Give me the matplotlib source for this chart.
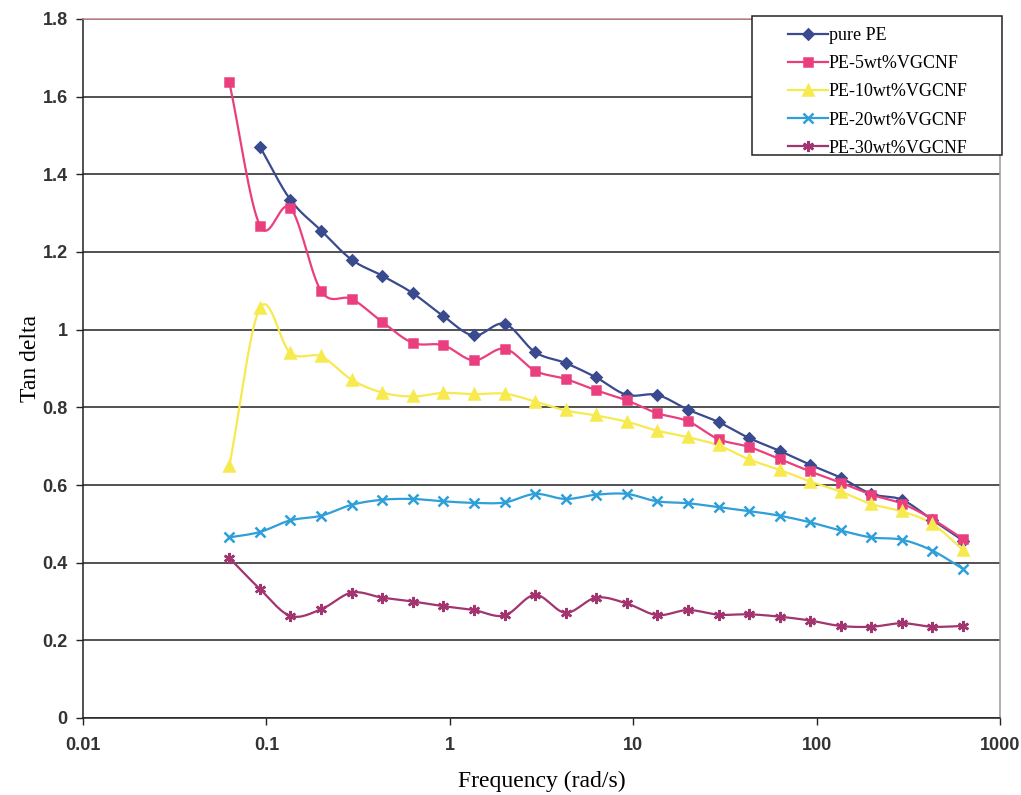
import numpy as np
import matplotlib
matplotlib.use("Agg")
import matplotlib.pyplot as plt
from matplotlib.patches import Rectangle
from matplotlib.ticker import FixedLocator, FixedFormatter

# frequency sweep (rad/s), 6 points per decade
freq = [0.0628, 0.0922, 0.135, 0.199, 0.292, 0.428, 0.628, 0.922, 1.35, 1.99,
        2.92, 4.28, 6.28, 9.22, 13.5, 19.9, 29.2, 42.8, 62.8, 92.2,
        135, 199, 292, 428, 628]

# tan delta for each sample
pure_pe = [None, 1.471, 1.335, 1.255, 1.180, 1.139, 1.094, 1.035, 0.985, 1.015,
           0.942, 0.914, 0.877, 0.832, 0.832, 0.794, 0.762, 0.721, 0.688, 0.652,
           0.619, 0.577, 0.562, 0.510, 0.457]
pe_5 = [1.637, 1.268, 1.314, 1.099, 1.079, 1.020, 0.966, 0.960, 0.921, 0.951,
        0.894, 0.873, 0.844, 0.818, 0.785, 0.764, 0.718, 0.698, 0.667, 0.635,
        0.606, 0.575, 0.552, 0.512, 0.461]
pe_10 = [0.649, 1.056, 0.940, 0.931, 0.871, 0.838, 0.828, 0.837, 0.834, 0.835,
         0.815, 0.792, 0.779, 0.763, 0.740, 0.723, 0.702, 0.666, 0.639, 0.609,
         0.583, 0.551, 0.532, 0.500, 0.433]
pe_20 = [0.465, 0.479, 0.509, 0.521, 0.549, 0.562, 0.564, 0.558, 0.554, 0.555,
         0.577, 0.564, 0.575, 0.577, 0.558, 0.553, 0.543, 0.533, 0.521, 0.504,
         0.483, 0.465, 0.459, 0.431, 0.384]
pe_30 = [0.412, 0.332, 0.263, 0.280, 0.323, 0.310, 0.300, 0.288, 0.278, 0.264,
         0.317, 0.271, 0.310, 0.295, 0.265, 0.278, 0.266, 0.267, 0.261, 0.251,
         0.237, 0.235, 0.244, 0.235, 0.237]

labels = ["pure PE", "PE-5wt%VGCNF", "PE-10wt%VGCNF", "PE-20wt%VGCNF", "PE-30wt%VGCNF"]
colors = ["#3a4a8e", "#ea3f7e", "#f7ea4e", "#2e9fd9", "#a2346f"]
markers = ["D", "s", "^", "x", (6, 2, 0)]
msizes = [5.5, 6, 6.5, 7, 8]

x_ticks = [0.01, 0.1, 1, 10, 100, 1000]
x_ticklabels = ["0.01", "0.1", "1", "10", "100", "1000"]
y_ticks = [0, 0.2, 0.4, 0.6, 0.8, 1, 1.2, 1.4, 1.6, 1.8]
y_ticklabels = ["0", "0.2", "0.4", "0.6", "0.8", "1", "1.2", "1.4", "1.6", "1.8"]

W, H = 1021, 795


def smooth(xs, ys, n=16):
    # Catmull-Rom curve through the points, in log-x space
    lx = np.log10(xs)
    ys = np.asarray(ys, float)
    px = np.concatenate([[2 * lx[0] - lx[1]], lx, [2 * lx[-1] - lx[-2]]])
    py = np.concatenate([[2 * ys[0] - ys[1]], ys, [2 * ys[-1] - ys[-2]]])
    t = np.linspace(0, 1, n, endpoint=False)
    ox, oy = [], []
    for i in range(1, len(px) - 2):
        for p, o in ((px, ox), (py, oy)):
            p0, p1, p2, p3 = p[i - 1], p[i], p[i + 1], p[i + 2]
            o.extend(0.5 * (2 * p1 + (-p0 + p2) * t
                            + (2 * p0 - 5 * p1 + 4 * p2 - p3) * t ** 2
                            + (-p0 + 3 * p1 - 3 * p2 + p3) * t ** 3))
    ox.append(lx[-1])
    oy.append(ys[-1])
    return 10 ** np.array(ox), np.array(oy)


fig = plt.figure(figsize=(W / 100, H / 100), dpi=100)
ax = fig.add_axes([83 / W, 77 / H, 917 / W, 699 / H])

handles = []
for series, lab, c, m, ms in zip([pure_pe, pe_5, pe_10, pe_20, pe_30],
                                 labels, colors, markers, msizes):
    xs = np.array([f for f, v in zip(freq, series) if v is not None])
    ys = np.array([v for v in series if v is not None])
    sx, sy = smooth(xs, ys)
    ax.plot(sx, sy, color=c, lw=1.6, zorder=3)
    ax.plot(xs, ys, ls="none", marker=m, ms=ms, color=c, mec=c, mew=1.8, zorder=4)
    h, = ax.plot([], [], color=c, lw=1.6, marker=m, ms=ms, mec=c, mew=1.8)
    handles.append(h)

ax.set_xscale("log")
ax.set_xlim(0.01, 1000)
ax.set_ylim(0, 1.8)
ax.xaxis.set_major_locator(FixedLocator(x_ticks))
ax.xaxis.set_major_formatter(FixedFormatter(x_ticklabels))
ax.xaxis.set_minor_locator(FixedLocator([]))
ax.yaxis.set_major_locator(FixedLocator(y_ticks))
ax.yaxis.set_major_formatter(FixedFormatter(y_ticklabels))

ax.grid(axis="y", color="#222222", lw=1.1)
ax.set_axisbelow(True)
ax.tick_params(direction="out", length=5, width=1, colors="#222222")
ax.tick_params(axis="x", pad=9)
ax.tick_params(axis="y", pad=6)
for lab in ax.get_xticklabels() + ax.get_yticklabels():
    lab.set_fontfamily("Liberation Sans")
    lab.set_fontweight("bold")
    lab.set_fontsize(13)
    lab.set_color("#333333")

ax.spines["left"].set_color("#222222")
ax.spines["bottom"].set_color("#222222")
ax.spines["right"].set_color("#999999")
ax.spines["top"].set_color("#c98a96")
for s in ax.spines.values():
    s.set_linewidth(1.1)

ax.set_xlabel("Frequency (rad/s)", fontfamily="Liberation Serif", fontsize=17, labelpad=12)
ax.set_ylabel("Tan delta", fontfamily="Liberation Serif", fontsize=17, va="center")
ax.yaxis.set_label_coords(-52 / 917, 0.515)

# legend box with a wide left margin
box = Rectangle((752 / W, 1 - 155 / H), 250 / W, 139 / H, transform=fig.transFigure,
                facecolor="white", edgecolor="#222222", lw=1.1, zorder=5)
fig.add_artist(box)
leg = fig.legend(handles, labels, loc="upper left",
                 bbox_to_anchor=(788 / W, 1 - 27 / H), bbox_transform=fig.transFigure,
                 prop={"family": "Liberation Serif", "size": 13},
                 frameon=False, handlelength=2.2, handletextpad=0.05,
                 labelspacing=0.62, borderpad=0, borderaxespad=0)
leg.set_zorder(6)

fig.savefig("out.png", dpi=100)
